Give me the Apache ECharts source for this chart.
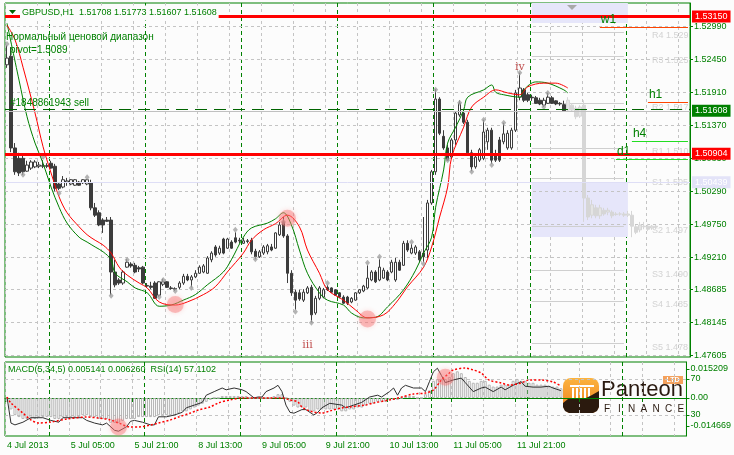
<!DOCTYPE html>
<html><head><meta charset="utf-8">
<script src="https://cdn.jsdelivr.net/npm/echarts@6/dist/echarts.min.js"></script>
<style>html,body{margin:0;padding:0;background:#fcfcfc}#c{width:734px;height:455px}</style>
</head><body><div id="c"></div><script>
// ---------- data ----------
const timeLabels = ['4 Jul 2013','5 Jul 05:00','5 Jul 21:00','8 Jul 13:00','9 Jul 05:00','9 Jul 21:00','10 Jul 13:00','11 Jul 05:00','11 Jul 21:00'];
const barSlots = 171;
const daySeparators = [11,35,59,83,107,131,155];
const priceTicks = [1.47605,1.48145,1.48685,1.49210,1.49750,1.50290,1.50830,1.51370,1.51910,1.52450,1.52990];
const rsiTicks = [30,70];
const macdTicks = [-0.014669,0,0.015209];
// [open, high, low, close]
const bars = [
[1.5236,1.5268,1.5231,1.5247],[1.5250,1.5265,1.5093,1.5100],[1.5100,1.5108,1.5056,1.5061],[1.5083,1.5092,1.5054,1.5059],
[1.5083,1.5087,1.5056,1.5061],[1.5062,1.5079,1.5061,1.5072],[1.5067,1.5080,1.5064,1.5077],[1.5069,1.5080,1.5067,1.5077],
[1.5070,1.5077,1.5067,1.5072],[1.5070,1.5080,1.5067,1.5071],[1.5071,1.5075,1.5067,1.5070],[1.5075,1.5079,1.5066,1.5067],
[1.5070,1.5074,1.5029,1.5034],[1.5041,1.5044,1.5031,1.5034],[1.5036,1.5054,1.5034,1.5048],[1.5044,1.5051,1.5038,1.5046],
[1.5041,1.5049,1.5039,1.5048],[1.5039,1.5049,1.5038,1.5048],[1.5044,1.5046,1.5038,1.5039],[1.5043,1.5049,1.5041,1.5048],
[1.5041,1.5049,1.5039,1.5048],[1.5043,1.5048,1.4998,1.5002],[1.5002,1.5010,1.4987,1.4990],[1.4994,1.4998,1.4972,1.4974],
[1.4982,1.4985,1.4961,1.4974],[1.4982,1.4987,1.4979,1.4980],[1.4982,1.4987,1.4859,1.4897],[1.4897,1.4917,1.4872,1.4876],
[1.4884,1.4887,1.4876,1.4879],[1.4879,1.4900,1.4876,1.4897],[1.4905,1.4918,1.4904,1.4913],[1.4910,1.4913,1.4904,1.4907],
[1.4908,1.4912,1.4895,1.4897],[1.4904,1.4907,1.4897,1.4902],[1.4905,1.4907,1.4877,1.4879],[1.4874,1.4879,1.4871,1.4875],
[1.4874,1.4881,1.4869,1.4872],[1.4879,1.4882,1.4853,1.4854],[1.4859,1.4882,1.4856,1.4881],[1.4877,1.4886,1.4874,1.4881],
[1.4881,1.4882,1.4871,1.4872],[1.4871,1.4874,1.4868,1.4870],[1.4869,1.4872,1.4866,1.4870],[1.4872,1.4882,1.4869,1.4879],
[1.4879,1.4894,1.4876,1.4890],[1.4890,1.4894,1.4882,1.4884],[1.4884,1.4892,1.4872,1.4889],[1.4889,1.4900,1.4887,1.4895],
[1.4895,1.4908,1.4894,1.4905],[1.4897,1.4910,1.4895,1.4907],[1.4895,1.4923,1.4894,1.4920],[1.4917,1.4931,1.4913,1.4928],
[1.4938,1.4941,1.4922,1.4925],[1.4928,1.4940,1.4925,1.4936],[1.4951,1.4953,1.4926,1.4928],[1.4936,1.4953,1.4935,1.4951],
[1.4946,1.4949,1.4935,1.4936],[1.4953,1.4962,1.4944,1.4946],[1.4949,1.4953,1.4944,1.4948],[1.4944,1.4953,1.4943,1.4948],
[1.4948,1.4951,1.4944,1.4947],[1.4949,1.4953,1.4926,1.4930],[1.4931,1.4935,1.4918,1.4922],[1.4922,1.4933,1.4920,1.4930],
[1.4928,1.4941,1.4925,1.4938],[1.4930,1.4943,1.4926,1.4940],[1.4938,1.4943,1.4931,1.4933],[1.4936,1.4962,1.4935,1.4961],
[1.4958,1.4979,1.4956,1.4974],[1.4979,1.4987,1.4953,1.4956],[1.4956,1.4959,1.4879,1.4895],[1.4895,1.4900,1.4858,1.4863],
[1.4864,1.4868,1.4835,1.4851],[1.4863,1.4868,1.4850,1.4853],[1.4851,1.4869,1.4848,1.4864],[1.4863,1.4874,1.4861,1.4871],
[1.4872,1.4876,1.4815,1.4827],[1.4830,1.4858,1.4827,1.4854],[1.4854,1.4874,1.4851,1.4871],[1.4856,1.4871,1.4854,1.4868],
[1.4872,1.4876,1.4866,1.4868],[1.4871,1.4872,1.4863,1.4864],[1.4868,1.4869,1.4858,1.4859],[1.4863,1.4864,1.4854,1.4856],
[1.4856,1.4859,1.4845,1.4846],[1.4856,1.4858,1.4843,1.4846],[1.4848,1.4856,1.4846,1.4854],[1.4851,1.4864,1.4850,1.4863],
[1.4863,1.4869,1.4861,1.4868],[1.4866,1.4876,1.4864,1.4874],[1.4871,1.4908,1.4869,1.4887],[1.4884,1.4900,1.4882,1.4897],
[1.4897,1.4900,1.4879,1.4881],[1.4884,1.4918,1.4882,1.4905],[1.4887,1.4904,1.4886,1.4900],[1.4897,1.4900,1.4882,1.4884],
[1.4897,1.4917,1.4895,1.4913],[1.4884,1.4920,1.4881,1.4913],[1.4913,1.4917,1.4899,1.4900],[1.4908,1.4948,1.4907,1.4944],
[1.4944,1.4949,1.4930,1.4933],[1.4928,1.4943,1.4926,1.4936],[1.4928,1.4941,1.4925,1.4938],[1.4930,1.4933,1.4913,1.4917],
[1.4928,1.4987,1.4913,1.4922],[1.4933,1.5015,1.4920,1.5010],[1.5010,1.5064,1.5007,1.5061],[1.5061,1.5196,1.5056,1.5180],
[1.5180,1.5183,1.5121,1.5124],[1.5119,1.5129,1.5097,1.5100],[1.5100,1.5105,1.5079,1.5080],[1.5085,1.5116,1.5082,1.5113],
[1.5113,1.5160,1.5105,1.5157],[1.5154,1.5178,1.5151,1.5173],[1.5157,1.5162,1.5139,1.5142],[1.5142,1.5146,1.5088,1.5092],
[1.5092,1.5097,1.5062,1.5069],[1.5069,1.5088,1.5066,1.5085],[1.5080,1.5100,1.5077,1.5097],[1.5083,1.5146,1.5080,1.5126],
[1.5110,1.5133,1.5097,1.5129],[1.5129,1.5133,1.5074,1.5080],[1.5088,1.5097,1.5077,1.5080],[1.5113,1.5118,1.5077,1.5080],
[1.5110,1.5141,1.5106,1.5123],[1.5100,1.5129,1.5097,1.5124],[1.5100,1.5133,1.5097,1.5129],[1.5129,1.5195,1.5126,1.5190],
[1.5183,1.5223,1.5178,1.5198],[1.5195,1.5198,1.5175,1.5178],[1.5187,1.5190,1.5175,1.5178],[1.5183,1.5187,1.5177,1.5182],
[1.5182,1.5185,1.5172,1.5173],[1.5178,1.5182,1.5170,1.5172],[1.5170,1.5182,1.5167,1.5178],[1.5173,1.5190,1.5172,1.5183],
[1.5182,1.5185,1.5172,1.5173],[1.5177,1.5178,1.5170,1.5172],[1.5173,1.5175,1.5169,1.5172],[1.51708,1.51773,1.51607,1.51608]
];
const ghostStart = 140;
const ghostBars = [
[1.5162,1.5183,1.5159,1.5178],[1.5170,1.5173,1.5159,1.5162],[1.5165,1.5169,1.5147,1.5151],[1.5152,1.5170,1.5149,1.5167],
[1.5170,1.5178,1.4979,1.5018],[1.5018,1.5023,1.4982,1.4987],[1.4990,1.5015,1.4985,1.5007],[1.5002,1.5007,1.4985,1.4989],
[1.4989,1.5007,1.4984,1.5002],[1.4998,1.5002,1.4989,1.4992],[1.4995,1.5002,1.4990,1.4998],[1.4995,1.4998,1.4985,1.4989],
[1.4992,1.4995,1.4989,1.4991],[1.4992,1.4995,1.4989,1.4992],[1.4992,1.4995,1.4987,1.4990],[1.4990,1.4997,1.4987,1.4992],
[1.4990,1.4997,1.4954,1.4972],[1.4971,1.4974,1.4959,1.4962],[1.4966,1.4979,1.4962,1.4974],[1.4972,1.4979,1.4967,1.4971],
[1.4972,1.4976,1.4964,1.4967],[1.4969,1.4974,1.4966,1.4972],[1.4972,1.4974,1.4967,1.4971]
];
const maFast = [[0,1.5304],[3,1.5211],[5,1.5151],[7,1.5108],[9,1.5075],[11,1.5036],[13,1.5003],[15,1.4977],[18,1.4954],[20,1.4946],[22,1.4938],[24,1.4930],[26,1.4917],[27,1.4895],[30,1.4881],[32,1.4871],[35,1.4863],[38,1.4841],[41,1.4843],[44,1.4851],[47,1.4860],[50,1.4876],[54,1.4897],[56,1.4917],[59,1.4954],[61,1.4969],[65,1.4977],[67,1.4984],[69,1.4994],[71,1.4974],[73,1.4933],[75,1.4895],[78,1.4863],[80,1.4851],[84,1.4843],[86,1.4830],[89,1.4822],[92,1.4823],[95,1.4840],[99,1.4868],[102,1.4900],[104,1.4928],[106,1.4954],[107,1.5003],[109,1.5064],[110,1.5108],[112,1.5134],[114,1.5162],[115,1.5183],[119,1.5195],[121,1.5203],[122,1.5191],[124,1.5187],[128,1.5183],[129,1.5195],[132,1.5208],[135,1.5206],[139,1.5195],[140,1.5190]];
const maSlow = [[0,1.5301],[2,1.5277],[4,1.5232],[7,1.5157],[9,1.5102],[11,1.5059],[13,1.5020],[15,1.4994],[18,1.4971],[20,1.4958],[22,1.4949],[24,1.4941],[26,1.4928],[28,1.4905],[30,1.4892],[33,1.4879],[35,1.4871],[38,1.4848],[42,1.4843],[45,1.4848],[49,1.4860],[52,1.4873],[55,1.4897],[59,1.4928],[61,1.4949],[64,1.4966],[67,1.4976],[70,1.4990],[73,1.4971],[75,1.4933],[78,1.4895],[80,1.4868],[84,1.4851],[87,1.4835],[90,1.4822],[94,1.4827],[97,1.4846],[100,1.4873],[104,1.4905],[106,1.4938],[108,1.4987],[110,1.5036],[111,1.5085],[114,1.5134],[116,1.5167],[119,1.5183],[122,1.5195],[125,1.5190],[128,1.5187],[130,1.5200],[134,1.5206],[137,1.5206],[140,1.5198]];
const fractals = [[0,1.5270],[4,1.5056],[9,1.5085],[13,1.5026],[20,1.5052],[26,1.4858],[30,1.4917],[38,1.4856],[39,1.4884],[42,1.4866],[46,1.4871],[57,1.4966],[62,1.4918],[69,1.4979],[72,1.4832],[76,1.4814],[80,1.4879],[90,1.4912],[93,1.4922],[101,1.4946],[104,1.4910],[107,1.5195],[110,1.5080],[113,1.5174],[116,1.5061],[119,1.5146],[121,1.5072],[124,1.5141],[128,1.5223],[134,1.5167],[135,1.5190]];
const crossMarks = [[42,1.4844],[70,1.4985],[90,1.4820]];
const waveLabels = [[75,1.4778,'iii'],[128,1.5232,'iv']];
const pivotLevels = [['R4',1.5290],['R3',1.5250],['R2',1.5173],['R1',1.5100],['S1',1.5050],['S2',1.4972],['S3',1.4900],['S4',1.4850],['S5',1.4780]];
const rsi = [[0,50],[1,21],[2,19],[4,22],[6,27],[9,27],[11,24],[13,22],[14,27],[16,27],[19,27],[20,24],[22,21],[24,19],[25,21],[27,13],[28,12],[30,17],[31,23],[32,24],[34,22],[36,19],[37,19],[38,28],[40,28],[42,30],[44,33],[45,38],[47,41],[49,44],[50,52],[52,56],[54,60],[55,58],[57,60],[59,58],[60,56],[62,49],[63,50],[64,50],[65,56],[67,60],[68,63],[69,56],[70,41],[71,33],[72,32],[74,36],[75,36],[77,30],[78,33],[79,38],[81,43],[84,41],[85,38],[87,41],[89,44],[91,50],[93,52],[94,50],[96,56],[97,60],[98,52],[99,60],[100,63],[102,60],[104,60],[105,56],[106,67],[107,78],[108,82],[109,74],[110,66],[112,69],[114,71],[115,66],[117,56],[119,60],[120,61],[122,56],[124,61],[125,58],[127,63],[129,67],[130,62],[132,61],[134,61],[136,62],[137,60],[139,57.1]];
const macdSignal = [[0,0.0005],[1,-0.0026],[4,-0.0079],[6,-0.0115],[8,-0.0131],[11,-0.0126],[15,-0.0110],[20,-0.0100],[23,-0.0105],[26,-0.0115],[28,-0.0131],[31,-0.0152],[33,-0.0152],[36,-0.0142],[38,-0.0131],[41,-0.0115],[43,-0.0100],[46,-0.0079],[48,-0.0063],[51,-0.0047],[53,-0.0026],[56,-0.0010],[59,0],[62,0],[66,0],[69,0],[71,-0.0010],[73,-0.0021],[74,-0.0047],[76,-0.0068],[79,-0.0079],[81,-0.0068],[84,-0.0052],[86,-0.0047],[90,-0.0037],[92,-0.0026],[96,-0.0010],[99,0.0005],[102,0.0021],[105,0.0026],[107,0.0042],[109,0.0094],[111,0.0131],[112,0.0147],[115,0.0157],[117,0.0147],[119,0.0131],[121,0.0094],[124,0.0079],[126,0.0068],[129,0.0079],[131,0.0094],[134,0.0094],[137,0.0084],[139,0.0063]];
const macdMain = [
-0.002,-0.006,-0.009,-0.010,-0.011,-0.011,-0.011,-0.011,-0.010,-0.010,
-0.010,-0.010,-0.011,-0.011,-0.010,-0.010,-0.010,-0.010,-0.010,-0.009,
-0.009,-0.010,-0.010,-0.011,-0.011,-0.011,-0.013,-0.013,-0.013,-0.012,
-0.011,-0.011,-0.011,-0.010,-0.010,-0.010,-0.010,-0.010,-0.009,-0.009,
-0.009,-0.009,-0.009,-0.008,-0.007,-0.007,-0.006,-0.005,-0.004,-0.003,
-0.002,-0.001,0,0,0.001,0.001,0.001,0.001,0.001,0.001,
0.001,0,0,0,0,0,0,0.001,0.002,0.002,
0,-0.002,-0.004,-0.005,-0.005,-0.005,-0.007,-0.007,-0.006,-0.006,
-0.006,-0.006,-0.006,-0.006,-0.007,-0.007,-0.006,-0.006,-0.005,-0.005,
-0.004,-0.003,-0.003,-0.002,-0.002,-0.002,-0.001,-0.001,-0.001,0,
0.001,0.001,0.001,0,0,0.002,0.004,0.009,0.010,0.010,
0.010,0.011,0.013,0.014,0.013,0.011,0.009,0.008,0.008,0.009,
0.009,0.007,0.006,0.006,0.007,0.007,0.007,0.009,0.010,0.009,
0.009,0.008,0.008,0.007,0.007,0.007,0.006,0.006,0.006,0.005141];
const rsiCrossMarks = [[28,16.7],[110,72]];

// ---------- chart ----------
const GREEN = '#008000', FONT = 'Liberation Sans, Arial, sans-serif', BG = '#fcfcfc';
const cats = Array.from({length: barSlots}, (_, i) => String(i));
const lastIdx = barSlots - 1;
const Y0MIN = 1.47580, Y0MAX = 1.53371;

function boxLabel(text, bg, fg) {
  return {show: true, position: 'end', distance: 2, formatter: text, backgroundColor: bg, color: fg,
          padding: [2, 3, 1, 3], fontSize: 9, fontFamily: FONT};
}
function segLine(v, from, color, name) {
  return [{coord: [from, v], lineStyle: {color: color, width: 1, type: 'solid'},
           label: {show: true, position: 'insideStartTop', formatter: name, color: GREEN, fontSize: 12, fontFamily: FONT, distance: 1}},
          {coord: [lastIdx, v]}];
}
const hideLbl = {show: false};

const option = {
  animation: false,
  backgroundColor: BG,
  grid: [
    {left: 5, right: 44, top: 3, height: 354, show: true, borderColor: GREEN, borderWidth: 1, backgroundColor: BG},
    {left: 5, right: 44, top: 362, height: 74, show: true, borderColor: GREEN, borderWidth: 1, backgroundColor: BG}
  ],
  xAxis: [
    {type: 'category', gridIndex: 0, data: cats, boundaryGap: true, axisLine: {show: false}, axisTick: {show: false}, axisLabel: {show: false},
     splitLine: {show: true, interval: 7, lineStyle: {color: '#c4c4c4', type: [3, 3]}}},
    {type: 'category', gridIndex: 1, data: cats, boundaryGap: true, axisLine: {show: true, lineStyle: {color: GREEN}},
     axisTick: {show: true, interval: 15, length: 4, lineStyle: {color: GREEN}},
     axisLabel: {interval: 15, align: 'left', margin: 5, color: GREEN, fontSize: 9, fontFamily: FONT,
                 formatter: (v) => { const i = +v; return (i % 16 === 0 && timeLabels[i / 16]) ? timeLabels[i / 16] : ''; }},
     splitLine: {show: true, interval: 7, lineStyle: {color: '#c4c4c4', type: [3, 3]}}},
    {type: 'category', gridIndex: 0, data: cats, boundaryGap: true, axisLine: {show: false}, axisTick: {show: false}, axisLabel: {show: false},
     splitLine: {show: true, interval: (i) => daySeparators.indexOf(i) >= 0, lineStyle: {color: GREEN, type: [4, 3]}}},
    {type: 'category', gridIndex: 1, data: cats, boundaryGap: true, axisLine: {show: false}, axisTick: {show: false}, axisLabel: {show: false},
     splitLine: {show: true, interval: (i) => daySeparators.indexOf(i) >= 0, lineStyle: {color: GREEN, type: [4, 3]}}}
  ],
  yAxis: [
    {type: 'value', gridIndex: 0, position: 'right', min: Y0MIN, max: Y0MAX,
     axisLine: {show: true, lineStyle: {color: GREEN}},
     axisTick: {show: true, customValues: priceTicks, length: 3, lineStyle: {color: GREEN}},
     axisLabel: {customValues: priceTicks, formatter: (v) => v.toFixed(5), color: GREEN, fontSize: 9, fontFamily: FONT, margin: 4},
     splitLine: {show: false}},
    {type: 'value', gridIndex: 1, position: 'right', min: 6.67, max: 88.9,
     axisLine: {show: true, lineStyle: {color: GREEN}},
     axisTick: {show: true, customValues: rsiTicks, length: 3, lineStyle: {color: GREEN}},
     axisLabel: {customValues: rsiTicks, formatter: (v) => String(Math.round(v)), color: GREEN, fontSize: 9, fontFamily: FONT, margin: 4},
     splitLine: {show: false}},
    {type: 'value', gridIndex: 1, position: 'right', min: -0.019916, max: 0.018868,
     axisLine: {show: false},
     axisTick: {show: true, customValues: macdTicks, length: 3, lineStyle: {color: GREEN}},
     axisLabel: {customValues: macdTicks, formatter: (v) => Math.abs(v) < 1e-9 ? '0.00' : v.toFixed(6), color: GREEN, fontSize: 9, fontFamily: FONT, margin: 4},
     splitLine: {show: false}}
  ],
  series: [
    { // background levels (behind candles)
      type: 'line', name: 'levels', xAxisIndex: 0, yAxisIndex: 0, data: [], z: 1,
      markArea: {silent: true, z: 1, precision: 6, itemStyle: {color: '#e6e6fa'}, label: hideLbl,
        data: [
          [{coord: [131, 1.53042]}, {coord: [155, Y0MAX]}],
          [{coord: [131, 1.50439]}, {coord: [155, 1.49543]}]
        ]},
      markLine: {silent: true, z: 1, precision: 6, symbol: 'none', label: hideLbl,
        data: [].concat(
          priceTicks.map(v => ({yAxis: v, lineStyle: {color: '#c4c4c4', type: [3, 3], width: 1}})),
          pivotLevels.map(p => [{coord: [131, p[1]], lineStyle: {color: '#cfcfcf', width: 1, type: 'solid'}}, {coord: [154, p[1]]}])
        )}
    },
    {
      type: 'candlestick', name: 'GBPUSD,H1', xAxisIndex: 0, yAxisIndex: 0, z: 2,
      data: bars.map(b => [b[0], b[3], b[2], b[1]]),
      barWidth: 3,
      itemStyle: {color: '#ffffff', color0: '#3c3c3c', borderColor: '#3c3c3c', borderColor0: '#3c3c3c', borderWidth: 1},
      markLine: {silent: true, precision: 6, symbol: 'none',
        data: [
          {yAxis: 1.53150, lineStyle: {color: '#ff0000', width: 3, type: 'solid'}, label: boxLabel('1.53150', '#ff0000', '#ffffff')},
          {yAxis: 1.53042, lineStyle: {color: '#e6e6fa', width: 0, opacity: 0}, label: boxLabel('1.53042', '#e3e3f8', '#ffffff')},
          {yAxis: 1.51637, lineStyle: {color: '#006400', width: 1, type: [12, 7]}, label: hideLbl},
          {yAxis: 1.51608, lineStyle: {color: '#c0c0c0', width: 1, type: 'solid'}, label: boxLabel('1.51608', '#008000', '#ffffff')},
          {yAxis: 1.50904, lineStyle: {color: '#ff0000', width: 3, type: 'solid'}, label: boxLabel('1.50904', '#ff0000', '#ffffff')},
          {yAxis: 1.50439, lineStyle: {color: '#dedef6', width: 1, type: 'solid'}, label: boxLabel('1.50439', '#e3e3f8', '#ffffff')},
          segLine(1.52978, 148, '#ff4500', 'w1'),
          segLine(1.51751, 160, '#ff4500', 'h1'),
          segLine(1.51113, 156, '#22dd22', 'h4'),
          segLine(1.50819, 152, '#22dd22', 'd1')
        ]}
    },
    {
      type: 'candlestick', name: 'ghost', xAxisIndex: 0, yAxisIndex: 0, z: 2,
      data: ghostBars.map((b, k) => [ghostStart + k, b[0], b[3], b[2], b[1]]),
      encode: {x: 0, y: [1, 2, 3, 4]},
      barWidth: 3,
      itemStyle: {color: '#e4e4e4', color0: '#d6d6d6', borderColor: '#d6d6d6', borderColor0: '#d6d6d6', borderWidth: 1}
    },
    {type: 'line', name: 'fast', xAxisIndex: 0, yAxisIndex: 0, data: maFast, smooth: 0.35, showSymbol: false, z: 3,
     lineStyle: {color: '#008000', width: 1}},
    {type: 'line', name: 'slow', xAxisIndex: 0, yAxisIndex: 0, data: maSlow, smooth: 0.35, showSymbol: false, z: 3,
     lineStyle: {color: '#ff0000', width: 1}},
    {type: 'scatter', name: 'fractals', xAxisIndex: 0, yAxisIndex: 0, data: fractals, symbol: 'diamond', symbolSize: [5, 6], z: 3,
     itemStyle: {color: '#a0a0a0'}},
    {type: 'scatter', name: 'cross', xAxisIndex: 0, yAxisIndex: 0, data: crossMarks, symbolSize: 17, z: 4,
     itemStyle: {color: 'rgba(248,110,110,0.5)', shadowBlur: 5, shadowColor: 'rgba(248,110,110,0.6)'}},
    {type: 'scatter', name: 'waves', xAxisIndex: 0, yAxisIndex: 0, data: waveLabels, symbolSize: 1, z: 4,
     itemStyle: {color: 'rgba(0,0,0,0)'},
     label: {show: true, position: 'inside', formatter: (p) => p.data[2], color: '#b22222', fontSize: 11, fontFamily: 'DejaVu Serif, serif'}},
    {type: 'scatter', name: 'pivotText', xAxisIndex: 0, yAxisIndex: 0, data: pivotLevels.map(p => [161, p[1], p[0]]), symbolSize: 1, z: 1,
     itemStyle: {color: 'rgba(0,0,0,0)'},
     label: {show: true, position: 'inside', align: 'left', offset: [0, 4], width: 39, overflow: 'truncate', ellipsis: '',
             formatter: (p) => p.data[2] + ' ' + p.data[1].toFixed(4), color: '#c8c8c8', fontSize: 9, fontFamily: FONT}},
    {type: 'bar', name: 'MACD', xAxisIndex: 1, yAxisIndex: 2, data: macdMain, barWidth: 3, z: 2,
     itemStyle: {color: 'rgba(0,0,0,0)', borderColor: '#b4b4b4', borderWidth: 1}},
    {type: 'line', name: 'RSI(14)', xAxisIndex: 1, yAxisIndex: 1, data: rsi, showSymbol: false, z: 3,
     lineStyle: {color: '#303030', width: 1},
     markLine: {silent: true, z: 1, symbol: 'none', label: hideLbl,
       data: rsiTicks.map(v => ({yAxis: v, lineStyle: {color: '#c4c4c4', type: [3, 3], width: 1}}))}},
    {type: 'line', name: 'signal', xAxisIndex: 1, yAxisIndex: 2, data: macdSignal, showSymbol: false, smooth: 0.3, z: 3,
     lineStyle: {color: '#ff0000', width: 1.5, type: [2, 2]}},
    {type: 'scatter', name: 'cross2', xAxisIndex: 1, yAxisIndex: 1, data: rsiCrossMarks, symbolSize: 17, z: 4,
     itemStyle: {color: 'rgba(248,110,110,0.5)', shadowBlur: 5, shadowColor: 'rgba(248,110,110,0.6)'}}
  ],
  graphic: [
    {type: 'text', x: 20, y: 13, z: 50, style: {text: 'GBPUSD,H1  1.51708 1.51773 1.51607 1.51608', fill: GREEN,
      font: '9px ' + FONT, verticalAlign: 'middle', align: 'left', backgroundColor: BG, padding: [3, 2, 3, 2]}},
    {type: 'polygon', z: 51, shape: {points: [[9, 10], [16, 10], [12.5, 14]]}, style: {fill: '#006400'}},
    {type: 'polygon', z: 51, shape: {points: [[567, 5], [577, 5], [572, 10]]}, style: {fill: '#a8a8a8'}},
    {type: 'text', x: 6, y: 37, z: 50, style: {text: 'Нормальный ценовой диапазон', fill: GREEN, font: '10px ' + FONT, verticalAlign: 'middle'}},
    {type: 'text', x: 10, y: 50, z: 50, style: {text: 'pivot=1.5089', fill: GREEN, font: '10px ' + FONT, verticalAlign: 'middle'}},
    {type: 'text', x: 10, y: 103, z: 50, style: {text: '#1848861943 sell', fill: GREEN, font: '10px ' + FONT, verticalAlign: 'middle'}},
    {type: 'text', x: 8, y: 370, z: 50, style: {text: 'MACD(5,34,5) 0.005141 0.006260  RSI(14) 57.1102', fill: GREEN, font: '9px ' + FONT, verticalAlign: 'middle'}},
    // logo
    {type: 'group', z: 60, children: [
      {type: 'rect', shape: {x: 563, y: 378, width: 36, height: 35, r: 8},
       style: {fill: new echarts.graphic.LinearGradient(0, 0, 0, 1, [{offset: 0, color: '#fbb33f'}, {offset: 1, color: '#f07f1e'}])}},
      {type: 'rect', shape: {x: 570, y: 385, width: 24, height: 2}, style: {fill: '#ffffff'}},
      {type: 'rect', shape: {x: 572, y: 388, width: 2, height: 10}, style: {fill: '#ffffff'}},
      {type: 'rect', shape: {x: 576, y: 388, width: 2, height: 10}, style: {fill: '#ffffff'}},
      {type: 'rect', shape: {x: 580, y: 388, width: 2, height: 10}, style: {fill: '#ffffff'}},
      {type: 'rect', shape: {x: 584, y: 388, width: 2, height: 10}, style: {fill: '#ffffff'}},
      {type: 'rect', shape: {x: 588, y: 388, width: 2, height: 10}, style: {fill: '#ffffff'}},
      {type: 'polygon', shape: {points: [[563,403],[568,399],[574,398],[580,399],[586,398],[592,395],[599,391],[599,407],[597,411],[593,413],[569,413],[565,411],[563,407]]}, style: {fill: '#2b1a0e'}},
      {type: 'text', x: 601, y: 390, style: {text: 'Panteon', fill: '#2a1a10', font: '22px ' + FONT, verticalAlign: 'middle'}},
      {type: 'rect', shape: {x: 663, y: 376, width: 20, height: 8}, style: {fill: '#f4a15c'}},
      {type: 'text', x: 673, y: 380, style: {text: 'LTD', fill: '#ffffff', font: 'bold 7px ' + FONT, align: 'center', verticalAlign: 'middle'}}
    ].concat('FINANCE'.split('').map((ch, k) => ({type: 'text', x: 607 + k * 12.3, y: 409,
      style: {text: ch, fill: '#2a1a10', font: '10px ' + FONT, align: 'center', verticalAlign: 'middle'}})))}
  ]
};
const chart = echarts.init(document.getElementById('c'), null, {renderer: 'canvas'});
chart.setOption(option);
</script></body></html>
